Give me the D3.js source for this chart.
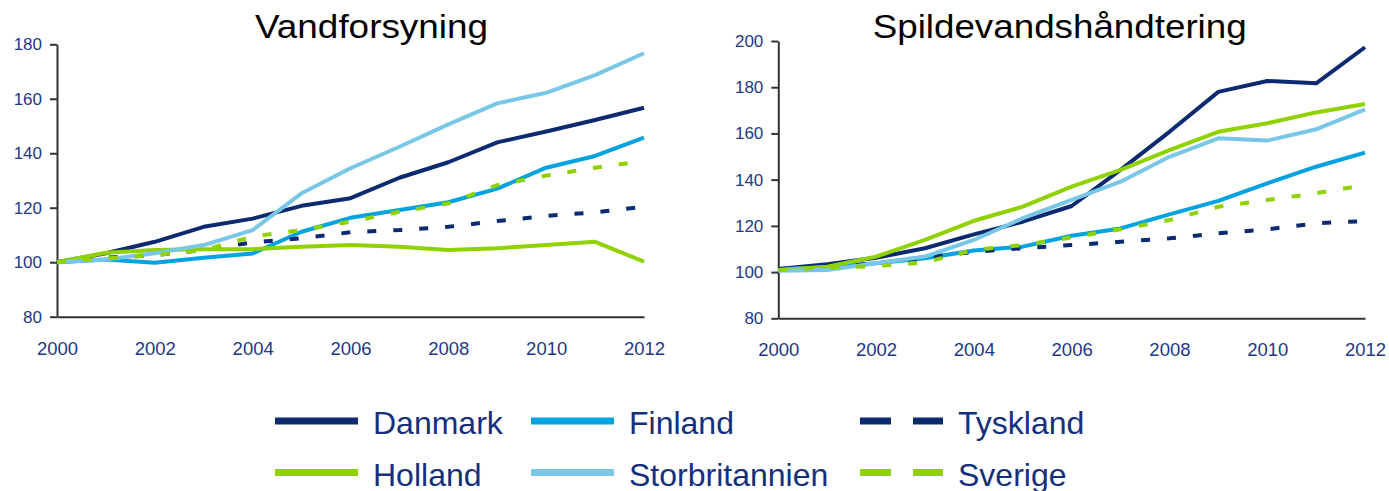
<!DOCTYPE html>
<html>
<head>
<meta charset="utf-8">
<script src="https://cdn.jsdelivr.net/npm/d3@7"></script>
<style>
  body { margin: 0; background: #fff; }
  text { font-family: 'Liberation Sans', Arial, sans-serif; }
</style>
</head>
<body>
<div id="chart-container"></div>
<script>
// data
const years = [2000, 2001, 2002, 2003, 2004, 2005, 2006, 2007, 2008, 2009, 2010, 2011, 2012]
const xTicks = [2000, 2002, 2004, 2006, 2008, 2010, 2012]
const countries = ['Danmark', 'Finland', 'Tyskland', 'Holland', 'Storbritannien', 'Sverige']

// Vandforsyning
const vandDanmark = [100, 103.3, 107.5, 113, 116, 120.7, 123.5, 131, 136.7, 144, 148, 152.2, 156.7]
const vandFinland = [100, 101, 99.8, 101.6, 103.2, 111.2, 116.3, 119.2, 122, 127, 134.7, 139, 145.7]
const vandTyskland = [100, 101.7, 102.6, 104.5, 107.3, 108.8, 111, 111.8, 113, 115.1, 117, 118.3, 120.4]
const vandHolland = [100, 103.5, 104.5, 104.8, 104.8, 105.7, 106.3, 105.7, 104.5, 105.1, 106.3, 107.5, 100.2]
const vandStorbritannien = [100, 101, 103.3, 106.3, 111.8, 125.3, 134.5, 142.4, 150.6, 158.3, 162.2, 168.7, 176.7]
const vandSverige = [100, 101.4, 102.6, 104.5, 109.4, 111.8, 114.9, 118.5, 121.6, 128.3, 131.8, 134.7, 137.2]

// Spildevandshåndtering
const spildDanmark = [101.3, 103.4, 106.2, 110.3, 116.3, 121.8, 128.6, 144.2, 160.7, 178, 182.7, 181.7, 197.3]
const spildFinland = [101.2, 102.1, 103.8, 106, 109.3, 111, 115.7, 118.9, 125, 130.8, 138.4, 145.6, 151.7]
const spildTyskland = [101.3, 102.1, 103.8, 106.2, 108.8, 110.3, 111.7, 113.1, 114.6, 116.8, 118.5, 121.1, 122.1]
const spildHolland = [100.9, 102.3, 106.7, 113.9, 122.2, 128.3, 137, 144.2, 152.8, 160.7, 164.4, 169.1, 172.7]
const spildStorbritannien = [100.6, 100.9, 103.8, 106.7, 113.9, 123.3, 131.2, 139.1, 149.9, 157.9, 156.9, 161.8, 170.4]
const spildSverige = [100.9, 101.9, 102.6, 104.2, 109.6, 111.7, 115, 118.5, 122.5, 128.3, 131.2, 134.1, 137.7]

const vandTicks = [80, 100, 120, 140, 160, 180]
const spildTicks = [80, 100, 120, 140, 160, 180, 200]

// styling
const colors = {
  Danmark: '#0c2a70',
  Finland: '#00a3df',
  Tyskland: '#0c2a70',
  Holland: '#8fd200',
  Storbritannien: '#78c7e7',
  Sverige: '#8fd200'
}
const dashed = {Tyskland: true, Sverige: true}
const labelColor = '#1d3884'

const width = 1389
const height = 491

const svg = d3.select('#chart-container')
  .append('svg')
  .attr('width', width)
  .attr('height', height)

function drawPanel (opts) {
  const xScale = d3.scaleLinear()
    .domain([2000, 2012])
    .range([opts.left, opts.right])
  const yScale = d3.scaleLinear()
    .domain(opts.yDomain)
    .range([opts.bottom, opts.top])

  const g = svg.append('g')

  // y axis
  const yAxis = g.append('g')
    .attr('transform', `translate(${opts.left}, 0)`)
    .call(d3.axisLeft(yScale).tickValues(opts.yTicks).tickSize(7).tickPadding(8).tickSizeOuter(0))
  yAxis.select('.domain').attr('stroke', '#333').attr('stroke-width', 2)
  yAxis.selectAll('.tick line').attr('stroke', '#333').attr('stroke-width', 2)
  yAxis.selectAll('.tick text')
    .attr('fill', labelColor)
    .style('font-size', '17px')
    .style('font-family', "'Liberation Sans', Arial, sans-serif")

  // x axis
  const xAxis = g.append('g')
    .attr('transform', `translate(0, ${opts.bottom})`)
    .call(d3.axisBottom(xScale).tickValues(xTicks).tickFormat(d3.format('d')).tickSize(0).tickPadding(25))
  xAxis.select('.domain').attr('stroke', '#333').attr('stroke-width', 2)
  xAxis.selectAll('.tick text')
    .attr('fill', labelColor)
    .style('font-size', '18.5px')
    .style('font-family', "'Liberation Sans', Arial, sans-serif")

  // lines
  const line = d3.line()
    .x((d, i) => xScale(years[i]))
    .y(d => yScale(d))

  countries.forEach(c => {
    g.append('path')
      .datum(opts.series[c])
      .attr('d', line)
      .attr('fill', 'none')
      .attr('stroke', colors[c])
      .attr('stroke-width', 4)
      .attr('stroke-linejoin', 'round')
      .attr('stroke-dasharray', dashed[c] ? '9,17' : null)
  })

  // title
  g.append('text')
    .attr('x', opts.titleX)
    .attr('y', 38)
    .attr('text-anchor', 'middle')
    .attr('textLength', opts.titleWidth)
    .attr('lengthAdjust', 'spacingAndGlyphs')
    .style('font-size', '33px')
    .attr('fill', '#000')
    .text(opts.title)
}

drawPanel({
  title: 'Vandforsyning',
  titleX: 371.5,
  titleWidth: 233,
  left: 57,
  right: 644,
  top: 44.3,
  bottom: 316.7,
  yDomain: [80, 180],
  yTicks: vandTicks,
  series: {
    Danmark: vandDanmark,
    Finland: vandFinland,
    Tyskland: vandTyskland,
    Holland: vandHolland,
    Storbritannien: vandStorbritannien,
    Sverige: vandSverige
  }
})

drawPanel({
  title: 'Spildevandshåndtering',
  titleX: 1059.7,
  titleWidth: 374,
  left: 778.3,
  right: 1365,
  top: 41,
  bottom: 318.3,
  yDomain: [80, 200],
  yTicks: spildTicks,
  series: {
    Danmark: spildDanmark,
    Finland: spildFinland,
    Tyskland: spildTyskland,
    Holland: spildHolland,
    Storbritannien: spildStorbritannien,
    Sverige: spildSverige
  }
})

// legend, 3 columns x 2 rows
const legendCols = [373, 629, 958]
const legendRows = [421, 472.5]
const legend = svg.append('g')
countries.forEach((c, i) => {
  const tx = legendCols[i % 3]
  const ly = legendRows[Math.floor(i / 3)]
  legend.append('line')
    .attr('x1', tx - 98)
    .attr('x2', tx - 15)
    .attr('y1', ly)
    .attr('y2', ly)
    .attr('stroke', colors[c])
    .attr('stroke-width', 7)
    .attr('stroke-dasharray', dashed[c] ? '31,22' : null)
  legend.append('text')
    .attr('x', tx)
    .attr('y', ly + 13)
    .attr('fill', '#14307c')
    .style('font-size', '32px')
    .text(c)
})
</script>
</body>
</html>
